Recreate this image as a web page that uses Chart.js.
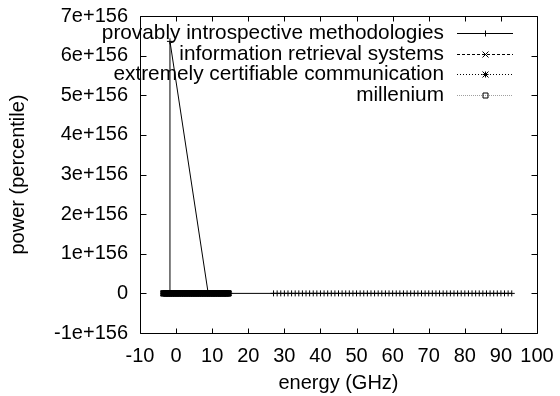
<!DOCTYPE html>
<html><head><meta charset="utf-8">
<script src="https://cdn.jsdelivr.net/npm/chart.js@4.4.1/dist/chart.umd.min.js"></script>
<style>html,body{margin:0;padding:0;background:#fff}canvas{display:block}</style>
</head><body>
<canvas id="c" width="560" height="396"></canvas>
<script>
const seriesNames = ['provably introspective methodologies','information retrieval systems','extremely certifiable communication','millenium'];

// series 1: spike then flat run with + markers
const x1 = [-3.5,-2.5,-1.7,-1.7,8.9,10.5,12,13.5,14.5,
  27,28,29,30,31,32,33,34,35,36,37,38,39,40,41,42,43,44,45,46,47,48,49,50,
  51,52,53,54,55,56,57,58,59,60,61,62,63,64,65,66,67,68,69,70,71,72,73,74,
  75,76,77,78,79,80,81,82,83,84,85,86,87,88,89,90,91,92,93];
const y1 = [0,0,0,6.36e156,0,0,0,0,0,
  0,0,0,0,0,0,0,0,0,0,0,0,0,0,0,0,0,0,0,0,0,0,0,0,
  0,0,0,0,0,0,0,0,0,0,0,0,0,0,0,0,0,0,0,0,0,0,0,0,
  0,0,0,0,0,0,0,0,0,0,0,0,0,0,0,0,0,0,0];

// series 2-4: dense points near zero forming the thick band
const xBandA = [-3.5,-3,-2.5,-2,-1.5,-1,-0.5,0,0.5,1,1.5,2,2.5,3,3.5,4,4.5,5,5.5,
  6,6.5,7,7.5,8,8.5,9,9.5,10,10.5,11,11.5,12,12.5,13,13.5,14,14.5];
const xBandB = [-3.25,-2.75,-2.25,-1.75,-1.25,-0.75,-0.25,0.25,0.75,1.25,1.75,2.25,2.75,
  3.25,3.75,4.25,4.75,5.25,5.75,6.25,6.75,7.25,7.75,8.25,8.75,9.25,9.75,10.25,10.75,11.25,11.75,
  12.25,12.75,13.25,13.75,14.25,14.75];
const y2 = [0,0,0,0,0,0,0,0,0,0,0,0,0,0,0,0,0,0,0,0,0,0,0,0,0,0,0,0,0,0,0,0,0,0,0,0,0];
const y3 = [0,0,0,0,0,0,0,0,0,0,0,0,0,0,0,0,0,0,0,0,0,0,0,0,0,0,0,0,0,0,0,0,0,0,0,0,0];
const y4 = [0,0,0,0,0,0,0,0,0,0,0,0,0,0,0,0,0,0,0,0,0,0,0,0,0,0,0,0,0,0,0,0,0,0,0,0,0];

const xTicks = [-10,0,10,20,30,40,50,60,70,80,90,100];
const xTickLabels = ['-10','0','10','20','30','40','50','60','70','80','90','100'];
const yTicks = [-1e156,0,1e156,2e156,3e156,4e156,5e156,6e156,7e156];
const yTickLabels = ['-1e+156','0','1e+156','2e+156','3e+156','4e+156','5e+156','6e+156','7e+156'];
const xTitle = 'energy (GHz)';
const yTitle = 'power (percentile)';

const FONT = {family:'"Liberation Sans", Arial, sans-serif', size:20};
const LFONT = '20.8px "Liberation Sans", Arial, sans-serif';

function pts(xs, ys){ return xs.map((x,i)=>({x:x, y:ys[i]})); }

function marker(ctx, style, x, y, r){
  ctx.beginPath();
  if (style==='cross' || style==='star'){
    ctx.moveTo(x-r,y); ctx.lineTo(x+r,y); ctx.moveTo(x,y-r); ctx.lineTo(x,y+r);
  }
  if (style==='crossRot' || style==='star'){
    ctx.moveTo(x-r,y-r); ctx.lineTo(x+r,y+r); ctx.moveTo(x-r,y+r); ctx.lineTo(x+r,y-r);
  }
  if (style==='rect'){
    ctx.rect(x-r,y-r,2*r,2*r);
  }
  ctx.stroke();
}

function zeroPad(s){ s.paddingTop = 0; s.paddingBottom = 0; s.paddingLeft = 0; s.paddingRight = 0; }

const framePlugin = {
  id:'frame',
  beforeDatasetsDraw(chart){
    const ctx = chart.ctx, a = chart.chartArea, sx = chart.scales.x, sy = chart.scales.y;
    const L = Math.round(a.left)+0.5, R = Math.round(a.right)+0.5, T = Math.round(a.top)+0.5, B = Math.round(a.bottom)+0.5;
    ctx.save();
    ctx.strokeStyle = '#000'; ctx.lineWidth = 1;
    ctx.beginPath();
    ctx.rect(L, T, R-L, B-T);
    xTicks.forEach(v=>{
      const p = Math.round(sx.getPixelForValue(v))+0.5;
      ctx.moveTo(p,B); ctx.lineTo(p,B-5);
      ctx.moveTo(p,T); ctx.lineTo(p,T+5);
    });
    yTicks.forEach(v=>{
      const p = Math.round(sy.getPixelForValue(v))+0.5;
      ctx.moveTo(L,p); ctx.lineTo(L+6,p);
      ctx.moveTo(R,p); ctx.lineTo(R-6,p);
    });
    ctx.stroke();
    ctx.restore();
  },
  afterDatasetsDraw(chart){
    const ctx = chart.ctx, a = chart.chartArea;
    ctx.save();
    ctx.font = LFONT; ctx.fillStyle = '#000';
    ctx.textAlign = 'right'; ctx.textBaseline = 'middle';
    chart.data.datasets.forEach((ds,i)=>{
      const yy = Math.round(a.top + 17 + i*20.6) + 0.5;
      ctx.fillText(ds.label, a.right - 93, yy);
      ctx.strokeStyle = ds.borderColor; ctx.lineWidth = 1;
      ctx.setLineDash(ds.borderDash || []);
      ctx.beginPath(); ctx.moveTo(a.right-80, yy); ctx.lineTo(a.right-24, yy); ctx.stroke();
      ctx.setLineDash([]);
      ctx.strokeStyle = '#000';
      const r = ds.pointStyle==='rect' ? 2.5 : 3;
      marker(ctx, ds.pointStyle, Math.round(a.right-52)+0.5, yy, r);
    });
    ctx.restore();
  }
};

new Chart(document.getElementById('c'), {
  type:'scatter',
  data:{datasets:[
    {label:seriesNames[0], data:pts(x1,y1), showLine:true, borderColor:'#000', borderWidth:1,
     pointStyle:'cross', pointRadius:3, pointBorderColor:'#000', pointBorderWidth:1, order:4},
    {label:seriesNames[1], data:pts(xBandA,y2), showLine:true, borderColor:'#000', borderWidth:1, borderDash:[3,2],
     pointStyle:'crossRot', pointRadius:4, pointBorderColor:'#000', pointBorderWidth:1.2, order:3},
    {label:seriesNames[2], data:pts(xBandB,y3), showLine:true, borderColor:'#000', borderWidth:1, borderDash:[1,2],
     pointStyle:'star', pointRadius:3, pointBorderColor:'#000', pointBorderWidth:1.2, order:2},
    {label:seriesNames[3], data:pts(xBandA,y4), showLine:true, borderColor:'#a0a0a0', borderWidth:1, borderDash:[1,1],
     pointStyle:'rect', pointRadius:3.7, pointBorderColor:'#000', pointBackgroundColor:'#000', pointBorderWidth:1, order:1}
  ]},
  options:{
    responsive:false, animation:false,
    layout:{padding:{left:0, top:16, right:23, bottom:0}},
    elements:{line:{tension:0}},
    plugins:{legend:{display:false}, tooltip:{enabled:false}},
    scales:{
      x:{type:'linear', min:-10, max:100,
        afterBuildTicks:s=>{ s.ticks = xTicks.map(v=>({value:v})); },
        afterFit:s=>{ s.height = 63; zeroPad(s); },
        ticks:{font:FONT, color:'#000', padding:11, maxRotation:0, autoSkip:false,
          callback:v=>xTickLabels[xTicks.indexOf(v)]},
        grid:{display:false, drawTicks:false}, border:{display:false},
        title:{display:true, text:xTitle, font:FONT, color:'#000', padding:{top:0,bottom:1}}},
      y:{type:'linear', min:-1e156, max:7e156,
        afterBuildTicks:s=>{ s.ticks = yTicks.map(v=>({value:v})); },
        afterFit:s=>{ s.width = 140; zeroPad(s); },
        ticks:{font:FONT, color:'#000', padding:12, autoSkip:false,
          callback:v=>yTickLabels[yTicks.indexOf(v)]},
        grid:{display:false, drawTicks:false}, border:{display:false},
        title:{display:true, text:yTitle, font:FONT, color:'#000', padding:{top:6,bottom:0}}}
    }
  },
  plugins:[framePlugin]
});
</script>
</body></html>
